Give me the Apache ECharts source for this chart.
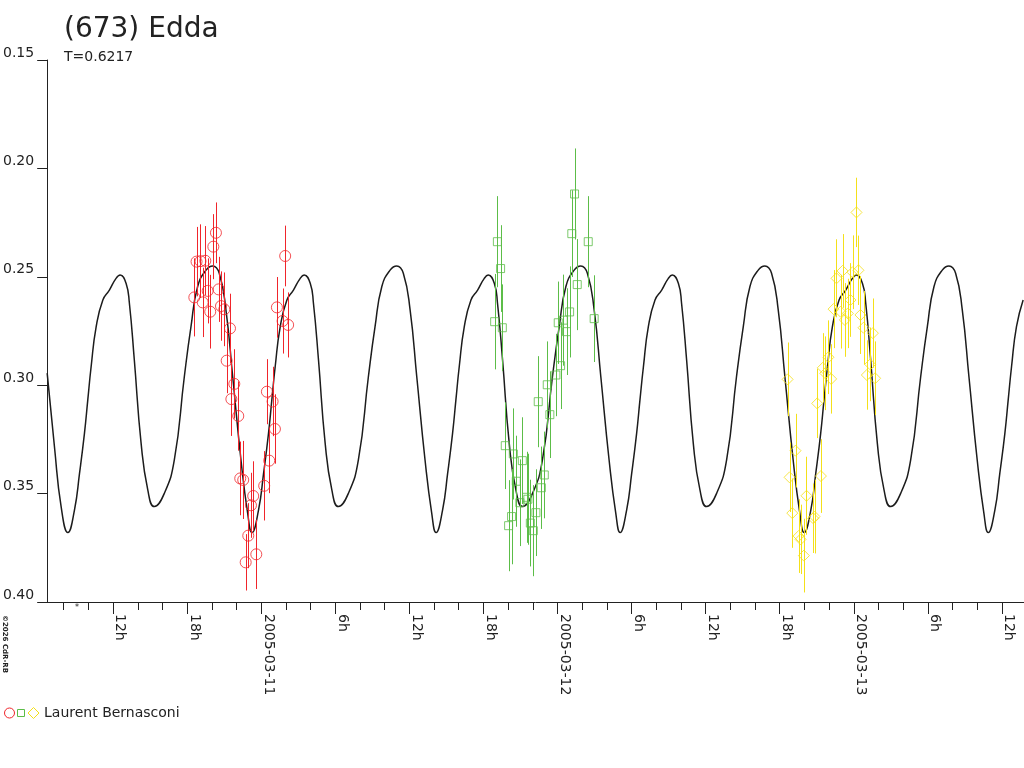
<!DOCTYPE html>
<html>
<head>
<meta charset="utf-8">
<title>(673) Edda</title>
<script src="https://cdn.jsdelivr.net/npm/echarts@6/dist/echarts.min.js"></script>
<style>
  html, body { margin: 0; padding: 0; background: #fff; }
  #chart { width: 1024px; height: 768px; }
</style>
</head>
<body>
<div id="chart"></div>
<script>
// heures relatives à 2005-03-11 00:00 UT, magnitudes relatives
const curveHours = [
  -17.34, -16.75, -16.21,
  -15.66, -15.13, -14.72, -14.32, -14.05, -13.78, -13.37, -12.83, -12.30, -11.76, -11.43, -10.95, -10.68, -10.28,
  -9.73, -9.19, -8.66, -7.85, -7.04, -6.23, -5.69, -5.15, -4.47, -3.93, -3.40, -2.86, -2.31, -1.64, -1.10,
  -0.75, -0.22, 0.19, 0.59, 0.86, 1.13, 1.54, 2.08, 2.61, 3.16, 3.48, 3.97, 4.23, 4.64,
  5.18, 5.72, 6.25, 7.06, 7.87, 8.68, 9.22, 9.77, 10.44, 10.98, 11.51, 12.06, 12.60, 13.27, 13.81,
  14.16, 14.69, 15.10, 15.50, 15.77, 16.04, 16.45, 16.99, 17.53, 18.07, 18.39, 18.88, 19.14, 19.55,
  20.09, 20.63, 21.17, 21.98, 22.78, 23.59, 24.14, 24.68, 25.35, 25.89, 26.42, 26.97, 27.51, 28.18, 28.72,
  29.07, 29.60, 30.01, 30.41, 30.68, 30.96, 31.36, 31.90, 32.44, 32.98, 33.30, 33.79, 34.05, 34.46,
  35.00, 35.54, 36.08, 36.89, 37.70, 38.50, 39.05, 39.59, 40.26, 40.80, 41.34, 41.88, 42.42, 43.09, 43.63,
  43.98, 44.52, 44.92, 45.32, 45.59, 45.87, 46.27, 46.81, 47.35, 47.89, 48.21, 48.70, 48.97, 49.37,
  49.91, 50.45, 50.99, 51.80, 52.61, 53.42, 53.96, 54.50, 55.17, 55.71, 56.25, 56.79, 57.33, 58.00, 58.54,
  58.89, 59.43, 59.83, 60.24, 60.51, 60.78, 61.18, 61.72
];
const curveMag = [
  0.2944, 0.3284, 0.356,
  0.368, 0.3576, 0.3407, 0.3222, 0.3068, 0.2915, 0.273, 0.2607, 0.2561, 0.2507, 0.2492, 0.253, 0.2622, 0.2884,
  0.3268, 0.3483, 0.356, 0.3499, 0.3345, 0.2961, 0.273, 0.2545, 0.2469, 0.245, 0.2484, 0.2653, 0.2961, 0.3345, 0.359,
  0.368, 0.3576, 0.3407, 0.3222, 0.3068, 0.2915, 0.273, 0.2607, 0.2561, 0.2507, 0.2492, 0.253, 0.2622, 0.2884,
  0.3268, 0.3483, 0.356, 0.3499, 0.3345, 0.2961, 0.273, 0.2545, 0.2469, 0.245, 0.2484, 0.2653, 0.2961, 0.3345, 0.359,
  0.368, 0.3576, 0.3407, 0.3222, 0.3068, 0.2915, 0.273, 0.2607, 0.2561, 0.2507, 0.2492, 0.253, 0.2622, 0.2884,
  0.3268, 0.3483, 0.356, 0.3499, 0.3345, 0.2961, 0.273, 0.2545, 0.2469, 0.245, 0.2484, 0.2653, 0.2961, 0.3345, 0.359,
  0.368, 0.3576, 0.3407, 0.3222, 0.3068, 0.2915, 0.273, 0.2607, 0.2561, 0.2507, 0.2492, 0.253, 0.2622, 0.2884,
  0.3268, 0.3483, 0.356, 0.3499, 0.3345, 0.2961, 0.273, 0.2545, 0.2469, 0.245, 0.2484, 0.2653, 0.2961, 0.3345, 0.359,
  0.368, 0.3576, 0.3407, 0.3222, 0.3068, 0.2915, 0.273, 0.2607, 0.2561, 0.2507, 0.2492, 0.253, 0.2622, 0.2884,
  0.3268, 0.3483, 0.356, 0.3499, 0.3345, 0.2961, 0.273, 0.2545, 0.2469, 0.245, 0.2484, 0.2653, 0.2961, 0.3345, 0.359,
  0.368, 0.3576, 0.3407, 0.3222, 0.3068, 0.2915, 0.273, 0.2607
];

// nuit du 10 au 11 (cercles rouges)
const redHours = [-3.67, -3.88, -5.24, -4.92, -4.53, -5.42, -4.74, -4.34, -4.13, -3.45, -3.26, -2.99, -2.53, -2.80, -2.18, -2.42,
  -1.86, -1.70, -1.46, -0.65, -0.83, -1.05, -0.40, -1.26, 0.24, 0.65, 1.11, 0.46, 0.92, 1.27, 1.73, 2.18, 1.94];
const redMag = [0.2297, 0.2361, 0.243, 0.2428, 0.2426, 0.2595, 0.2618, 0.2565, 0.2661, 0.2558, 0.2635, 0.265, 0.2738, 0.2887, 0.2994, 0.3064,
  0.3142, 0.343, 0.3437, 0.3511, 0.3554, 0.3694, 0.378, 0.3817, 0.3464, 0.3348, 0.3202, 0.303, 0.3075, 0.2641, 0.2704, 0.2722, 0.2404];
const redErr = [0.014, 0.015, 0.016, 0.017, 0.016, 0.018, 0.016, 0.015, 0.017, 0.015, 0.016, 0.017, 0.016, 0.015, 0.016, 0.017,
  0.016, 0.017, 0.018, 0.016, 0.015, 0.015, 0.016, 0.013, 0.016, 0.015, 0.016, 0.015, 0.016, 0.014, 0.015, 0.015, 0.014];

// nuit du 11 au 12 (carrés verts)
const greenHours = [25.38, 19.13, 25.16, 26.49, 19.39, 25.60, 18.91, 19.53, 24.98, 26.97, 24.06, 24.73, 24.47, 24.25, 23.87, 23.17,
  22.44, 23.38, 19.77, 20.42, 21.15, 20.66, 22.93, 22.69, 21.50, 20.95, 21.60, 22.25, 20.28, 20.04, 21.80, 22.04];
const greenMag = [0.2118, 0.2338, 0.2301, 0.2338, 0.2462, 0.2536, 0.2707, 0.2735, 0.2662, 0.2693, 0.2712, 0.2753, 0.27, 0.291, 0.2953, 0.2998,
  0.3076, 0.3136, 0.3279, 0.3317, 0.3348, 0.3443, 0.3414, 0.3473, 0.3517, 0.3542, 0.3526, 0.3588, 0.3606, 0.3648, 0.3636, 0.3671];
const greenErr = [0.021, 0.021, 0.02, 0.021, 0.02, 0.021, 0.022, 0.02, 0.021, 0.02, 0.019, 0.02, 0.021, 0.02, 0.019, 0.02,
  0.021, 0.02, 0.02, 0.021, 0.02, 0.021, 0.02, 0.019, 0.021, 0.02, 0.021, 0.02, 0.022, 0.021, 0.02, 0.021];

// nuit du 12 au 13 (losanges jaunes)
const yellowHours = [48.22, 47.09, 48.38, 47.90, 46.60, 47.73, 46.36, 46.93, 47.52, 47.28, 48.54, 48.79, 49.55, 45.95, 45.49, 45.69,
  46.17, 49.33, 49.06, 49.73, 42.64, 45.04, 43.28, 42.80, 45.34, 44.17, 43.02, 44.82, 44.72, 43.53, 43.69, 43.96];
const yellowMag = [0.2203, 0.2473, 0.247, 0.2479, 0.2507, 0.2607, 0.2649, 0.2661, 0.2669, 0.2699, 0.2676, 0.2735, 0.276, 0.2871, 0.292, 0.2945,
  0.2971, 0.2904, 0.2953, 0.2968, 0.2973, 0.3084, 0.3302, 0.3425, 0.3419, 0.351, 0.359, 0.3606, 0.3614, 0.3696, 0.3711, 0.3786];
const yellowErr = [0.016, 0.017, 0.016, 0.017, 0.018, 0.017, 0.018, 0.017, 0.016, 0.017, 0.018, 0.017, 0.016, 0.017, 0.016, 0.017,
  0.016, 0.017, 0.016, 0.017, 0.017, 0.016, 0.017, 0.016, 0.017, 0.018, 0.016, 0.017, 0.016, 0.017, 0.016, 0.017];

// graduations de l'axe du temps
const minorTickHours = [-16, -14, -12, -10, -8, -6, -4, -2, 0, 2, 4, 6, 8, 10, 12, 14, 16, 18, 20, 22, 24, 26, 28, 30,
  32, 34, 36, 38, 40, 42, 44, 46, 48, 50, 52, 54, 56, 58, 60];
const labelHours = [-12, -6, 0, 6, 12, 18, 24, 30, 36, 42, 48, 54, 60];
const labelTexts = ["12h", "18h", "2005-03-11", "6h", "12h", "18h", "2005-03-12", "6h", "12h", "18h", "2005-03-13", "6h", "12h"];

const observer = "Laurent Bernasconi";
const RED = "#f0252b";
const GREEN = "#5cbd48";
const YELLOW = "#f4e01a";
const INK = "#222";
const FONT = "DejaVu Sans";

function errorSeries(hours, mag, err, color) {
  return {
    type: "custom",
    clip: true,
    z: 2,
    silent: true,
    encode: { x: 0, y: [1, 2] },
    data: hours.map((h, i) => [h, mag[i] - err[i], mag[i] + err[i]]),
    renderItem: (params, api) => {
      const a = api.coord([api.value(0), api.value(1)]);
      const b = api.coord([api.value(0), api.value(2)]);
      const x = Math.round(a[0]) + 0.5;
      return {
        type: "line",
        shape: { x1: x, y1: a[1], x2: x, y2: b[1] },
        style: { stroke: color, lineWidth: 1 },
      };
    },
  };
}

function pointSeries(hours, mag, symbol, size, color) {
  return {
    type: "scatter",
    symbol,
    symbolSize: size,
    z: 3,
    itemStyle: { color: "rgba(0,0,0,0)", borderColor: color, borderWidth: 1 },
    data: hours.map((h, i) => [h, mag[i]]),
  };
}

const chart = echarts.init(document.getElementById("chart"), null, { renderer: "canvas" });

const X_MIN = -17.34, X_MAX = 61.79;

chart.setOption({
  animation: false,
  backgroundColor: "#fff",
  textStyle: { fontFamily: FONT, color: INK },
  grid: { left: 45.5, right: 0, top: 60, bottom: 166, containLabel: false },
  xAxis: [
    {
      type: "value",
      min: X_MIN,
      max: X_MAX,
      axisLine: { show: true, onZero: false, lineStyle: { color: INK, width: 1 } },
      axisTick: { show: true, length: 8, customValues: minorTickHours, lineStyle: { color: INK } },
      axisLabel: { show: false },
      splitLine: { show: false },
    },
    {
      type: "value",
      position: "bottom",
      min: X_MIN,
      max: X_MAX,
      axisLine: { show: false, onZero: false },
      axisTick: { show: true, length: 12, customValues: labelHours, lineStyle: { color: INK } },
      axisLabel: {
        show: true,
        customValues: labelHours,
        rotate: -90,
        align: "left",
        verticalAlign: "bottom",
        margin: 12,
        fontSize: 14,
        fontFamily: FONT,
        color: INK,
        formatter: (v) => labelTexts[labelHours.indexOf(Math.round(v))] || "",
      },
      splitLine: { show: false },
    },
  ],
  yAxis: {
    type: "value",
    inverse: true,
    min: 0.15,
    max: 0.40,
    interval: 0.05,
    axisLine: { show: true, onZero: false, lineStyle: { color: INK, width: 1 } },
    axisTick: { show: true, length: 10, lineStyle: { color: INK } },
    axisLabel: {
      margin: 13,
      fontSize: 14,
      fontFamily: FONT,
      color: INK,
      verticalAlign: "bottom",
      formatter: (v) => v.toFixed(2),
    },
    splitLine: { show: false },
  },
  series: [
    {
      type: "line",
      z: 1,
      showSymbol: false,
      smooth: 0.5,
      silent: true,
      lineStyle: { color: "#1c1c1c", width: 1.5 },
      data: curveHours.map((h, i) => [h, curveMag[i]]),
    },
    errorSeries(redHours, redMag, redErr, RED),
    errorSeries(greenHours, greenMag, greenErr, GREEN),
    errorSeries(yellowHours, yellowMag, yellowErr, YELLOW),
    pointSeries(redHours, redMag, "circle", 11, RED),
    pointSeries(greenHours, greenMag, "rect", 8, GREEN),
    pointSeries(yellowHours, yellowMag, "diamond", 11, YELLOW),
  ],
  graphic: [
    { type: "text", left: 64, top: 16, style: { text: "(673) Edda", font: `28px "${FONT}"`, fill: INK } },
    { type: "text", left: 64, top: 50, style: { text: "T=0.6217", font: `14px "${FONT}"`, fill: INK } },
    // petite étoile sous l'axe
    { type: "text", left: 75, top: 604, style: { text: "*", font: `8px "${FONT}"`, fill: INK } },
    // copyright vertical
    {
      type: "text",
      x: 1, y: 615,
      rotation: -Math.PI / 2,
      style: { text: "©2026 CdR-RB", font: `bold 7px "${FONT}"`, fill: INK, verticalAlign: "bottom" },
    },
    // légende
    { type: "circle", shape: { cx: 9.5, cy: 713, r: 5 }, style: { fill: "none", stroke: RED, lineWidth: 1 } },
    { type: "rect", shape: { x: 17.5, y: 709.5, width: 7, height: 7 }, style: { fill: "none", stroke: GREEN, lineWidth: 1 } },
    {
      type: "polygon",
      shape: { points: [[33.5, 707.5], [39, 713], [33.5, 718.5], [28, 713]] },
      style: { fill: "none", stroke: YELLOW, lineWidth: 1 },
    },
    { type: "text", left: 44, top: 706, style: { text: observer, font: `14px "${FONT}"`, fill: INK } },
  ],
});
</script>
</body>
</html>
